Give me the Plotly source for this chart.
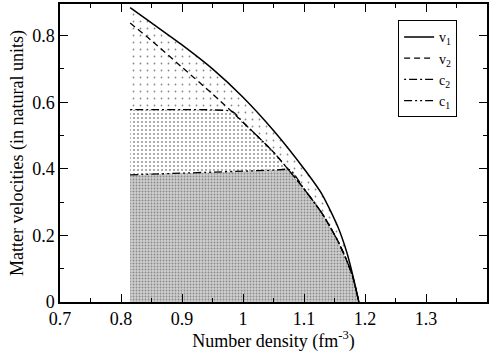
import plotly.graph_objects as go

# Number density (fm^-3)
x_v = [0.815, 0.85, 0.90, 0.95, 1.00, 1.05, 1.10, 1.13, 1.155, 1.17, 1.18, 1.19]
v1 = [0.884, 0.838, 0.772, 0.700, 0.615, 0.515, 0.400, 0.322, 0.228, 0.150, 0.080, 0.0]
v2 = [0.838, 0.785, 0.705, 0.625, 0.540, 0.450, 0.340, 0.265, 0.185, 0.125, 0.075, 0.0]

x_c2 = [0.815, 0.85, 0.90, 0.95, 0.983, 1.00, 1.05, 1.10, 1.13, 1.155, 1.17, 1.18, 1.19]
c2 = [0.578, 0.578, 0.578, 0.577, 0.572, 0.540, 0.450, 0.340, 0.265, 0.185, 0.125, 0.075, 0.0]

x_c1 = [0.815, 0.85, 0.90, 0.95, 1.00, 1.05, 1.077, 1.10, 1.13, 1.155, 1.17, 1.18, 1.19]
c1 = [0.382, 0.384, 0.387, 0.390, 0.393, 0.396, 0.397, 0.340, 0.265, 0.185, 0.125, 0.075, 0.0]

x_base = [0.815, 1.19]
base = [0.0, 0.0]

x_ticks = [0.7, 0.8, 0.9, 1.0, 1.1, 1.2, 1.3]
x_ticklabels = ["0.7", "0.8", "0.9", "1", "1.1", "1.2", "1.3"]
y_ticks = [0, 0.2, 0.4, 0.6, 0.8]
y_ticklabels = ["0", "0.2", "0.4", "0.6", "0.8"]

FONT = "Liberation Serif, Times New Roman, Times, serif"
SM = 0.6

fig = go.Figure()

# baseline for fills
fig.add_trace(go.Scatter(x=x_base, y=base, mode="lines", line=dict(width=0),
                         showlegend=False, hoverinfo="skip"))
# dense region under c1
fig.add_trace(go.Scatter(x=x_c1, y=c1, mode="lines", line=dict(width=0, shape="spline", smoothing=SM),
                         fill="tonexty", fillcolor="white",
                         fillpattern=dict(shape=".", size=3, solidity=0.3,
                                          fgcolor="#444", bgcolor="#cfcfcf"),
                         showlegend=False, hoverinfo="skip"))
# medium region between c1 and c2
fig.add_trace(go.Scatter(x=x_c2, y=c2, mode="lines", line=dict(width=0, shape="spline", smoothing=SM),
                         fill="tonexty", fillcolor="white",
                         fillpattern=dict(shape=".", size=4, solidity=0.2,
                                          fgcolor="#222", bgcolor="white"),
                         showlegend=False, hoverinfo="skip"))
# sparse region between c2 and v1
fig.add_trace(go.Scatter(x=x_v, y=v1, mode="lines", line=dict(width=0, shape="spline", smoothing=SM),
                         fill="tonexty", fillcolor="white",
                         fillpattern=dict(shape=".", size=7, solidity=0.05,
                                          fgcolor="#111", bgcolor="white"),
                         showlegend=False, hoverinfo="skip"))

# visible lines
fig.add_trace(go.Scatter(x=x_v, y=v1, mode="lines", name="v<sub>1</sub>",
                         line=dict(color="black", width=1.5, shape="spline", smoothing=SM)))
fig.add_trace(go.Scatter(x=x_v, y=v2, mode="lines", name="v<sub>2</sub>",
                         line=dict(color="black", width=1.3, dash="6px,4px", shape="spline", smoothing=SM)))
fig.add_trace(go.Scatter(x=x_c2, y=c2, mode="lines", name="c<sub>2</sub>",
                         line=dict(color="black", width=1.3, dash="2px,3px,8px,3px", shape="spline", smoothing=SM)))
fig.add_trace(go.Scatter(x=x_c1, y=c1, mode="lines", name="c<sub>1</sub>",
                         line=dict(color="black", width=1.3, dash="8px,3px,2px,3px,2px,3px", shape="spline", smoothing=SM)))

axis_common = dict(showline=True, linecolor="black", linewidth=1.5, mirror="ticks",
                   ticks="inside", ticklen=8, tickwidth=1, tickcolor="black",
                   showgrid=False, zeroline=False,
                   tickfont=dict(family=FONT, size=18, color="black"))

fig.update_xaxes(range=[0.7, 1.4], tickvals=x_ticks, ticktext=x_ticklabels,
                 minor=dict(ticks="inside", ticklen=4, dtick=0.05, tick0=0.7,
                            tickcolor="black", showgrid=False),
                 title=dict(text="Number density (fm<sup>-3</sup>)",
                            font=dict(family=FONT, size=18, color="black"), standoff=2),
                 **axis_common)
fig.update_yaxes(range=[0, 0.895], tickvals=y_ticks, ticktext=y_ticklabels,
                 minor=dict(ticks="inside", ticklen=4, dtick=0.1, tick0=0,
                            tickcolor="black", showgrid=False),
                 title=dict(text="Matter velocities (in natural units)",
                            font=dict(family=FONT, size=18, color="black"), standoff=4),
                 **axis_common)

fig.update_layout(
    width=491, height=352,
    margin=dict(l=60, r=2, t=2, b=50),
    plot_bgcolor="white", paper_bgcolor="white",
    legend=dict(x=0.93, y=0.945, xanchor="right", yanchor="top",
                bordercolor="black", borderwidth=1, bgcolor="white",
                font=dict(family=FONT, size=14, color="black"),
                itemwidth=30, tracegroupgap=0, traceorder="normal"),
)

fig.write_html("out.html", config={"displayModeBar": False},
               post_script="document.body.style.margin='0';document.body.style.padding='0';")
